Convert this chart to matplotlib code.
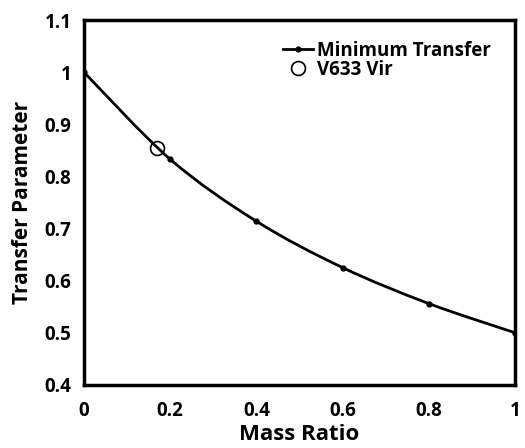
import matplotlib
matplotlib.use('Agg')
import matplotlib.pyplot as plt
from matplotlib.path import Path
from matplotlib.patches import PathPatch
from matplotlib.lines import Line2D

plt.rcParams['font.family'] = ['Open Sans', 'DejaVu Sans']
plt.rcParams['font.weight'] = 'bold'

# данные
mass_ratio = [0.0, 0.2, 0.4, 0.6, 0.8, 1.0]
transfer = [1.0, 0.833, 0.714, 0.625, 0.556, 0.5]
v633_q = [0.17]
v633_t = [0.855]

fig = plt.figure(figsize=(5.25, 4.48), dpi=100)
ax = fig.add_axes([0.16, 0.141, 0.821, 0.814])

# сглаженная линия как в Excel (Catmull-Rom -> Bezier)
verts = [(mass_ratio[0], transfer[0])]
codes = [Path.MOVETO]
n = len(mass_ratio)
for i in range(n - 1):
    p0 = (mass_ratio[max(i - 1, 0)], transfer[max(i - 1, 0)])
    p1 = (mass_ratio[i], transfer[i])
    p2 = (mass_ratio[i + 1], transfer[i + 1])
    p3 = (mass_ratio[min(i + 2, n - 1)], transfer[min(i + 2, n - 1)])
    c1 = (p1[0] + (p2[0] - p0[0]) / 6, p1[1] + (p2[1] - p0[1]) / 6)
    c2 = (p2[0] - (p3[0] - p1[0]) / 6, p2[1] - (p3[1] - p1[1]) / 6)
    verts += [c1, c2, p2]
    codes += [Path.CURVE4] * 3
ax.add_patch(PathPatch(Path(verts, codes), facecolor='none', edgecolor='black', lw=2))
ax.plot(mass_ratio, transfer, linestyle='none', marker='o', markersize=3.5, color='black')
ax.plot(v633_q, v633_t, linestyle='none', marker='o', markersize=10,
        markerfacecolor='none', markeredgecolor='black', markeredgewidth=1.2)

ax.set_xlim(0, 1)
ax.set_ylim(0.4, 1.1)
ax.set_xticks([0, 0.2, 0.4, 0.6, 0.8, 1])
ax.set_xticklabels(['0', '0.2', '0.4', '0.6', '0.8', '1'])
ax.set_yticks([0.4, 0.5, 0.6, 0.7, 0.8, 0.9, 1.0, 1.1])
ax.set_yticklabels(['0.4', '0.5', '0.6', '0.7', '0.8', '0.9', '1', '1.1'])
ax.tick_params(length=0, labelsize=13.5)
ax.tick_params(axis='x', pad=12)
ax.tick_params(axis='y', pad=9)
for lab in ax.get_xticklabels() + ax.get_yticklabels():
    lab.set_fontweight('bold')
for s in ax.spines.values():
    s.set_linewidth(2.5)

ax.set_xlabel('Mass Ratio', fontsize=16, fontweight='bold', labelpad=2)
ax.set_ylabel('Transfer Parameter', fontsize=15, fontweight='bold', labelpad=8)

handles = [
    Line2D([], [], color='black', lw=2, marker='o', markersize=3.5),
    Line2D([], [], linestyle='none', marker='o', markersize=10,
           markerfacecolor='none', markeredgecolor='black', markeredgewidth=1.2),
]
ax.legend(handles, ['Minimum Transfer', 'V633 Vir'], loc='upper right',
          frameon=False, prop={'size': 13.5, 'weight': 'bold'},
          handlelength=1.6, handletextpad=0.2, labelspacing=-0.05,
          bbox_to_anchor=(0.982, 0.99))

fig.savefig('out.png', dpi=100)
